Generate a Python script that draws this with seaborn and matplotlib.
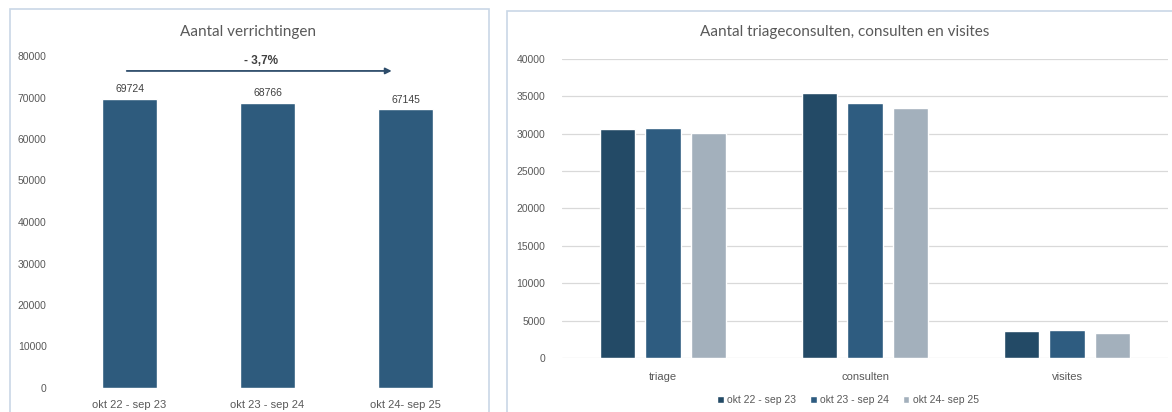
import pandas as pd
import matplotlib.pyplot as plt
import seaborn as sns
from matplotlib.patches import Rectangle

# Data
perioden = ['okt 22 - sep 23', 'okt 23 - sep 24', 'okt 24- sep 25']
verrichtingen = [69724, 68766, 67145]

categorieen = ['triage', 'consulten', 'visites']
okt22_sep23 = [30600, 35450, 3550]
okt23_sep24 = [30780, 34090, 3740]
okt24_sep25 = [30140, 33400, 3340]

kleuren = ['#234a66', '#2e5c80', '#a3b0bc']

sns.set_style('white')
plt.rcParams['font.family'] = ['Liberation Sans', 'DejaVu Sans']
tekstkleur = '#595959'

# Long format voor de rechter grafiek
df = pd.DataFrame({
    'categorie': categorieen * 3,
    'aantal': okt22_sep23 + okt23_sep24 + okt24_sep25,
    'periode': [perioden[0]] * 3 + [perioden[1]] * 3 + [perioden[2]] * 3,
})

fig = plt.figure(figsize=(11.72, 4.12), dpi=100)

# Panelranden
fig.patches.append(Rectangle((10 / 1172, -0.1), 479 / 1172, 1.1 - 9 / 412 + 0.0,
                             transform=fig.transFigure, fill=False,
                             edgecolor='#c9d7e6', lw=1.2))
fig.patches.append(Rectangle((507 / 1172, -0.1), 0.6, 1.1 - 11 / 412,
                             transform=fig.transFigure, fill=False,
                             edgecolor='#c9d7e6', lw=1.2))

# Linker grafiek - Aantal verrichtingen
ax1 = fig.add_axes([60.5 / 1172, 24 / 412, 414 / 1172, 332 / 412])
sns.barplot(x=perioden, y=verrichtingen, color='#2e5b7d', width=0.4,
            saturation=1, ax=ax1)
ax1.set_ylim(0, 80000)
ax1.set_xlim(-0.5, 2.5)
ax1.set_yticks(range(0, 80001, 10000))
ax1.tick_params(axis='y', labelsize=7.5, labelcolor=tekstkleur, pad=10, length=0)
ax1.tick_params(axis='x', labelsize=8, labelcolor=tekstkleur, pad=9, length=0)
for s in ax1.spines.values():
    s.set_visible(False)
ax1.bar_label(ax1.containers[0], padding=3, fontsize=7.5, color='#404040')
ax1.annotate('', xy=(1.92, 76400), xytext=(-0.04, 76400),
             arrowprops=dict(arrowstyle='-|>', color='#2e4d6b', lw=1.3,
                             mutation_scale=9))
ax1.text(0.95, 78800, '- 3,7%', ha='center', va='center', fontsize=8.5,
         fontweight='bold', color='#404040')
fig.text(248 / 1172, 1 - 32 / 412, 'Aantal verrichtingen', ha='center',
         va='center', fontsize=11, color=tekstkleur, family=['Lato', 'DejaVu Sans'])

# Rechter grafiek - triageconsulten, consulten en visites
ax2 = fig.add_axes([562 / 1172, 54 / 412, 606 / 1172, 299 / 412])
sns.barplot(data=df, x='categorie', y='aantal', hue='periode', palette=kleuren,
            width=0.677, gap=0.23, saturation=1, ax=ax2)
ax2.set_ylim(0, 40000)
ax2.set_xlim(-0.5, 2.5)
ax2.set_yticks(range(0, 40001, 5000))
ax2.yaxis.grid(True, color='#d9d9d9', lw=0.9)
ax2.set_axisbelow(True)
ax2.set_xlabel('')
ax2.set_ylabel('')
ax2.tick_params(axis='y', labelsize=7.5, labelcolor=tekstkleur, pad=12, length=0)
ax2.tick_params(axis='x', labelsize=8, labelcolor=tekstkleur, pad=10, length=0)
for s in ax2.spines.values():
    s.set_visible(False)
sns.move_legend(ax2, 'center', bbox_to_anchor=(848 / 1172, 12 / 412),
                bbox_transform=fig.transFigure, ncol=3, frameon=False, title=None,
                fontsize=7.5, handlelength=0.6, handleheight=0.6,
                handletextpad=0.3, columnspacing=1.4, labelcolor=tekstkleur)
fig.text(845 / 1172, 1 - 32 / 412, 'Aantal triageconsulten, consulten en visites',
         ha='center', va='center', fontsize=11, color=tekstkleur,
         family=['Lato', 'DejaVu Sans'])

fig.savefig('out.png', dpi=100)
